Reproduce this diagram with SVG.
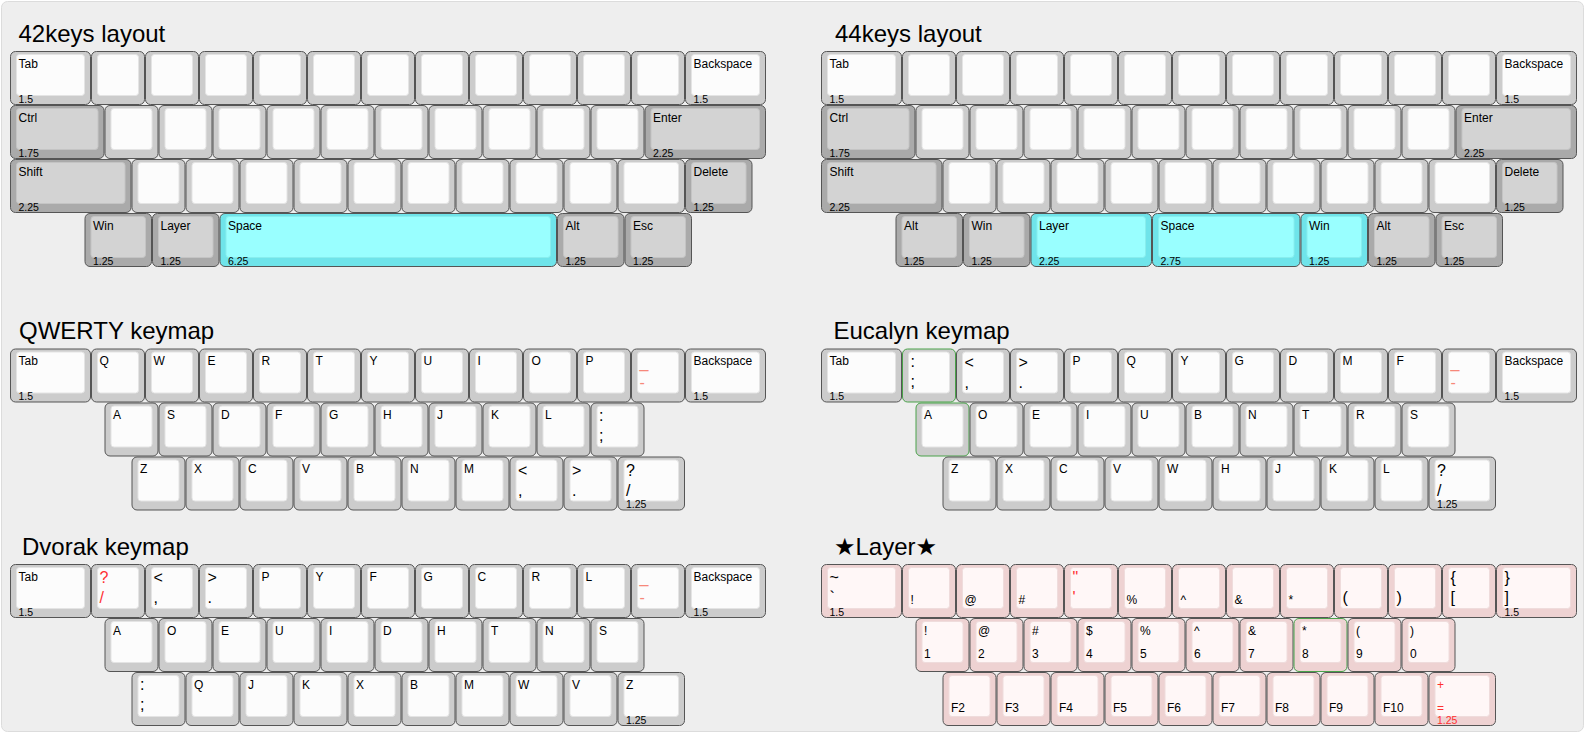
<svg xmlns="http://www.w3.org/2000/svg" width="1586" height="735" viewBox="0 0 1586 735">
<style>
text{font-family:"Liberation Sans",Arial,Helvetica,"DejaVu Sans",sans-serif;fill:#000}
.ttl{font-size:24px}
.s{font-size:12px}
.b{font-size:16px}
.f{font-size:10.5px}
.sal{fill:#f7887a}
.red{fill:#ff3030}
.wo{fill:#cccccc;stroke:#555}
.wi{fill:#fcfcfc;stroke:#e4e4e4}
.go{fill:#aaaaaa;stroke:#555}
.gi{fill:#d3d3d3;stroke:#c4c4c4}
.co{fill:#6fe4ea;stroke:#555}
.ci{fill:#99ffff;stroke:#88eeee}
.po{fill:#eed2d2;stroke:#555}
.pi{fill:#fff7f7;stroke:#efdcdc}
.gr{stroke:#4aa24a}
</style>
<defs>
<g id="w1"><rect class="wo" x="0.5" y="0.5" width="53" height="53" rx="5"/><rect class="wi" x="6.5" y="3.5" width="41" height="41" rx="3"/></g>
<g id="wg1"><rect class="wo gr" x="0.5" y="0.5" width="53" height="53" rx="5"/><rect class="wi" x="6.5" y="3.5" width="41" height="41" rx="3"/></g>
<g id="w125"><rect class="wo" x="0.5" y="0.5" width="66.5" height="53" rx="5"/><rect class="wi" x="6.5" y="3.5" width="54.5" height="41" rx="3"/></g>
<g id="w15"><rect class="wo" x="0.5" y="0.5" width="80" height="53" rx="5"/><rect class="wi" x="6.5" y="3.5" width="68" height="41" rx="3"/></g>
<g id="g125"><rect class="go" x="0.5" y="0.5" width="66.5" height="53" rx="5"/><rect class="gi" x="6.5" y="3.5" width="54.5" height="41" rx="3"/></g>
<g id="g175"><rect class="go" x="0.5" y="0.5" width="93.5" height="53" rx="5"/><rect class="gi" x="6.5" y="3.5" width="81.5" height="41" rx="3"/></g>
<g id="g225"><rect class="go" x="0.5" y="0.5" width="120.5" height="53" rx="5"/><rect class="gi" x="6.5" y="3.5" width="108.5" height="41" rx="3"/></g>
<g id="c125"><rect class="co" x="0.5" y="0.5" width="66.5" height="53" rx="5"/><rect class="ci" x="6.5" y="3.5" width="54.5" height="41" rx="3"/></g>
<g id="c225"><rect class="co" x="0.5" y="0.5" width="120.5" height="53" rx="5"/><rect class="ci" x="6.5" y="3.5" width="108.5" height="41" rx="3"/></g>
<g id="c275"><rect class="co" x="0.5" y="0.5" width="147.5" height="53" rx="5"/><rect class="ci" x="6.5" y="3.5" width="135.5" height="41" rx="3"/></g>
<g id="c625"><rect class="co" x="0.5" y="0.5" width="336.5" height="53" rx="5"/><rect class="ci" x="6.5" y="3.5" width="324.5" height="41" rx="3"/></g>
<g id="p1"><rect class="po" x="0.5" y="0.5" width="53" height="53" rx="5"/><rect class="pi" x="6.5" y="3.5" width="41" height="41" rx="3"/></g>
<g id="pg1"><rect class="po gr" x="0.5" y="0.5" width="53" height="53" rx="5"/><rect class="pi" x="6.5" y="3.5" width="41" height="41" rx="3"/></g>
<g id="p125"><rect class="po" x="0.5" y="0.5" width="66.5" height="53" rx="5"/><rect class="pi" x="6.5" y="3.5" width="54.5" height="41" rx="3"/></g>
<g id="p15"><rect class="po" x="0.5" y="0.5" width="80" height="53" rx="5"/><rect class="pi" x="6.5" y="3.5" width="68" height="41" rx="3"/></g>
</defs>
<rect x="1.5" y="1.5" width="1582" height="730" rx="6" fill="#eeeeee" stroke="#dcdcdc"/>

<!-- 42keys layout -->
<g id="layout42">
<text class="ttl" x="18.5" y="41.5">42keys layout</text>
<g id="l42-tab" transform="translate(10,51)"><use href="#w15"/><text class="s" x="8.5" y="16.5">Tab</text><text class="f" x="8.5" y="51.5">1.5</text></g>
<g id="l42-r0k1" transform="translate(91,51)"><use href="#w1"/></g>
<g id="l42-r0k2" transform="translate(145,51)"><use href="#w1"/></g>
<g id="l42-r0k3" transform="translate(199,51)"><use href="#w1"/></g>
<g id="l42-r0k4" transform="translate(253,51)"><use href="#w1"/></g>
<g id="l42-r0k5" transform="translate(307,51)"><use href="#w1"/></g>
<g id="l42-r0k6" transform="translate(361,51)"><use href="#w1"/></g>
<g id="l42-r0k7" transform="translate(415,51)"><use href="#w1"/></g>
<g id="l42-r0k8" transform="translate(469,51)"><use href="#w1"/></g>
<g id="l42-r0k9" transform="translate(523,51)"><use href="#w1"/></g>
<g id="l42-r0k10" transform="translate(577,51)"><use href="#w1"/></g>
<g id="l42-r0k11" transform="translate(631,51)"><use href="#w1"/></g>
<g id="l42-bksp" transform="translate(685,51)"><use href="#w15"/><text class="s" x="8.5" y="16.5">Backspace</text><text class="f" x="8.5" y="51.5">1.5</text></g>
<g id="l42-ctrl" transform="translate(10,105)"><use href="#g175"/><text class="s" x="8.5" y="16.5">Ctrl</text><text class="f" x="8.5" y="51.5">1.75</text></g>
<g id="l42-r1k1" transform="translate(104.5,105)"><use href="#w1"/></g>
<g id="l42-r1k2" transform="translate(158.5,105)"><use href="#w1"/></g>
<g id="l42-r1k3" transform="translate(212.5,105)"><use href="#w1"/></g>
<g id="l42-r1k4" transform="translate(266.5,105)"><use href="#w1"/></g>
<g id="l42-r1k5" transform="translate(320.5,105)"><use href="#w1"/></g>
<g id="l42-r1k6" transform="translate(374.5,105)"><use href="#w1"/></g>
<g id="l42-r1k7" transform="translate(428.5,105)"><use href="#w1"/></g>
<g id="l42-r1k8" transform="translate(482.5,105)"><use href="#w1"/></g>
<g id="l42-r1k9" transform="translate(536.5,105)"><use href="#w1"/></g>
<g id="l42-r1k10" transform="translate(590.5,105)"><use href="#w1"/></g>
<g id="l42-enter" transform="translate(644.5,105)"><use href="#g225"/><text class="s" x="8.5" y="16.5">Enter</text><text class="f" x="8.5" y="51.5">2.25</text></g>
<g id="l42-shift" transform="translate(10,159)"><use href="#g225"/><text class="s" x="8.5" y="16.5">Shift</text><text class="f" x="8.5" y="51.5">2.25</text></g>
<g id="l42-r2k1" transform="translate(131.5,159)"><use href="#w1"/></g>
<g id="l42-r2k2" transform="translate(185.5,159)"><use href="#w1"/></g>
<g id="l42-r2k3" transform="translate(239.5,159)"><use href="#w1"/></g>
<g id="l42-r2k4" transform="translate(293.5,159)"><use href="#w1"/></g>
<g id="l42-r2k5" transform="translate(347.5,159)"><use href="#w1"/></g>
<g id="l42-r2k6" transform="translate(401.5,159)"><use href="#w1"/></g>
<g id="l42-r2k7" transform="translate(455.5,159)"><use href="#w1"/></g>
<g id="l42-r2k8" transform="translate(509.5,159)"><use href="#w1"/></g>
<g id="l42-r2k9" transform="translate(563.5,159)"><use href="#w1"/></g>
<g id="l42-r2k10" transform="translate(617.5,159)"><use href="#w125"/></g>
<g id="l42-delete" transform="translate(685,159)"><use href="#g125"/><text class="s" x="8.5" y="16.5">Delete</text><text class="f" x="8.5" y="51.5">1.25</text></g>
<g id="l42-win" transform="translate(84.5,213)"><use href="#g125"/><text class="s" x="8.5" y="16.5">Win</text><text class="f" x="8.5" y="51.5">1.25</text></g>
<g id="l42-layer" transform="translate(152,213)"><use href="#g125"/><text class="s" x="8.5" y="16.5">Layer</text><text class="f" x="8.5" y="51.5">1.25</text></g>
<g id="l42-space" transform="translate(219.5,213)"><use href="#c625"/><text class="s" x="8.5" y="16.5">Space</text><text class="f" x="8.5" y="51.5">6.25</text></g>
<g id="l42-alt" transform="translate(557,213)"><use href="#g125"/><text class="s" x="8.5" y="16.5">Alt</text><text class="f" x="8.5" y="51.5">1.25</text></g>
<g id="l42-esc" transform="translate(624.5,213)"><use href="#g125"/><text class="s" x="8.5" y="16.5">Esc</text><text class="f" x="8.5" y="51.5">1.25</text></g>
</g>

<!-- 44keys layout -->
<g id="layout44">
<text class="ttl" x="835" y="41.5">44keys layout</text>
<g id="l44-tab" transform="translate(821,51)"><use href="#w15"/><text class="s" x="8.5" y="16.5">Tab</text><text class="f" x="8.5" y="51.5">1.5</text></g>
<g id="l44-r0k1" transform="translate(902,51)"><use href="#w1"/></g>
<g id="l44-r0k2" transform="translate(956,51)"><use href="#w1"/></g>
<g id="l44-r0k3" transform="translate(1010,51)"><use href="#w1"/></g>
<g id="l44-r0k4" transform="translate(1064,51)"><use href="#w1"/></g>
<g id="l44-r0k5" transform="translate(1118,51)"><use href="#w1"/></g>
<g id="l44-r0k6" transform="translate(1172,51)"><use href="#w1"/></g>
<g id="l44-r0k7" transform="translate(1226,51)"><use href="#w1"/></g>
<g id="l44-r0k8" transform="translate(1280,51)"><use href="#w1"/></g>
<g id="l44-r0k9" transform="translate(1334,51)"><use href="#w1"/></g>
<g id="l44-r0k10" transform="translate(1388,51)"><use href="#w1"/></g>
<g id="l44-r0k11" transform="translate(1442,51)"><use href="#w1"/></g>
<g id="l44-bksp" transform="translate(1496,51)"><use href="#w15"/><text class="s" x="8.5" y="16.5">Backspace</text><text class="f" x="8.5" y="51.5">1.5</text></g>
<g id="l44-ctrl" transform="translate(821,105)"><use href="#g175"/><text class="s" x="8.5" y="16.5">Ctrl</text><text class="f" x="8.5" y="51.5">1.75</text></g>
<g id="l44-r1k1" transform="translate(915.5,105)"><use href="#w1"/></g>
<g id="l44-r1k2" transform="translate(969.5,105)"><use href="#w1"/></g>
<g id="l44-r1k3" transform="translate(1023.5,105)"><use href="#w1"/></g>
<g id="l44-r1k4" transform="translate(1077.5,105)"><use href="#w1"/></g>
<g id="l44-r1k5" transform="translate(1131.5,105)"><use href="#w1"/></g>
<g id="l44-r1k6" transform="translate(1185.5,105)"><use href="#w1"/></g>
<g id="l44-r1k7" transform="translate(1239.5,105)"><use href="#w1"/></g>
<g id="l44-r1k8" transform="translate(1293.5,105)"><use href="#w1"/></g>
<g id="l44-r1k9" transform="translate(1347.5,105)"><use href="#w1"/></g>
<g id="l44-r1k10" transform="translate(1401.5,105)"><use href="#w1"/></g>
<g id="l44-enter" transform="translate(1455.5,105)"><use href="#g225"/><text class="s" x="8.5" y="16.5">Enter</text><text class="f" x="8.5" y="51.5">2.25</text></g>
<g id="l44-shift" transform="translate(821,159)"><use href="#g225"/><text class="s" x="8.5" y="16.5">Shift</text><text class="f" x="8.5" y="51.5">2.25</text></g>
<g id="l44-r2k1" transform="translate(942.5,159)"><use href="#w1"/></g>
<g id="l44-r2k2" transform="translate(996.5,159)"><use href="#w1"/></g>
<g id="l44-r2k3" transform="translate(1050.5,159)"><use href="#w1"/></g>
<g id="l44-r2k4" transform="translate(1104.5,159)"><use href="#w1"/></g>
<g id="l44-r2k5" transform="translate(1158.5,159)"><use href="#w1"/></g>
<g id="l44-r2k6" transform="translate(1212.5,159)"><use href="#w1"/></g>
<g id="l44-r2k7" transform="translate(1266.5,159)"><use href="#w1"/></g>
<g id="l44-r2k8" transform="translate(1320.5,159)"><use href="#w1"/></g>
<g id="l44-r2k9" transform="translate(1374.5,159)"><use href="#w1"/></g>
<g id="l44-r2k10" transform="translate(1428.5,159)"><use href="#w125"/></g>
<g id="l44-delete" transform="translate(1496,159)"><use href="#g125"/><text class="s" x="8.5" y="16.5">Delete</text><text class="f" x="8.5" y="51.5">1.25</text></g>
<g id="l44-alt1" transform="translate(895.5,213)"><use href="#g125"/><text class="s" x="8.5" y="16.5">Alt</text><text class="f" x="8.5" y="51.5">1.25</text></g>
<g id="l44-win1" transform="translate(963,213)"><use href="#g125"/><text class="s" x="8.5" y="16.5">Win</text><text class="f" x="8.5" y="51.5">1.25</text></g>
<g id="l44-layer" transform="translate(1030.5,213)"><use href="#c225"/><text class="s" x="8.5" y="16.5">Layer</text><text class="f" x="8.5" y="51.5">2.25</text></g>
<g id="l44-space" transform="translate(1152,213)"><use href="#c275"/><text class="s" x="8.5" y="16.5">Space</text><text class="f" x="8.5" y="51.5">2.75</text></g>
<g id="l44-win2" transform="translate(1300.5,213)"><use href="#c125"/><text class="s" x="8.5" y="16.5">Win</text><text class="f" x="8.5" y="51.5">1.25</text></g>
<g id="l44-alt2" transform="translate(1368,213)"><use href="#g125"/><text class="s" x="8.5" y="16.5">Alt</text><text class="f" x="8.5" y="51.5">1.25</text></g>
<g id="l44-esc" transform="translate(1435.5,213)"><use href="#g125"/><text class="s" x="8.5" y="16.5">Esc</text><text class="f" x="8.5" y="51.5">1.25</text></g>
</g>

<!-- QWERTY keymap -->
<g id="qwerty">
<text class="ttl" x="19" y="339">QWERTY keymap</text>
<g id="qw-tab" transform="translate(10,348.5)"><use href="#w15"/><text class="s" x="8.5" y="16.5">Tab</text><text class="f" x="8.5" y="51.5">1.5</text></g>
<g id="qw-q" transform="translate(91,348.5)"><use href="#w1"/><text class="s" x="8.5" y="16.5">Q</text></g>
<g id="qw-w" transform="translate(145,348.5)"><use href="#w1"/><text class="s" x="8.5" y="16.5">W</text></g>
<g id="qw-e" transform="translate(199,348.5)"><use href="#w1"/><text class="s" x="8.5" y="16.5">E</text></g>
<g id="qw-r" transform="translate(253,348.5)"><use href="#w1"/><text class="s" x="8.5" y="16.5">R</text></g>
<g id="qw-t" transform="translate(307,348.5)"><use href="#w1"/><text class="s" x="8.5" y="16.5">T</text></g>
<g id="qw-y" transform="translate(361,348.5)"><use href="#w1"/><text class="s" x="8.5" y="16.5">Y</text></g>
<g id="qw-u" transform="translate(415,348.5)"><use href="#w1"/><text class="s" x="8.5" y="16.5">U</text></g>
<g id="qw-i" transform="translate(469,348.5)"><use href="#w1"/><text class="s" x="8.5" y="16.5">I</text></g>
<g id="qw-o" transform="translate(523,348.5)"><use href="#w1"/><text class="s" x="8.5" y="16.5">O</text></g>
<g id="qw-p" transform="translate(577,348.5)"><use href="#w1"/><text class="s" x="8.5" y="16.5">P</text></g>
<g id="qw-minus" transform="translate(631,348.5)"><use href="#w1"/><text class="b sal" x="8.5" y="19">_</text><text class="b sal" x="8.5" y="39">-</text></g>
<g id="qw-bksp" transform="translate(685,348.5)"><use href="#w15"/><text class="s" x="8.5" y="16.5">Backspace</text><text class="f" x="8.5" y="51.5">1.5</text></g>
<g id="qw-a" transform="translate(104.5,402.5)"><use href="#w1"/><text class="s" x="8.5" y="16.5">A</text></g>
<g id="qw-s" transform="translate(158.5,402.5)"><use href="#w1"/><text class="s" x="8.5" y="16.5">S</text></g>
<g id="qw-d" transform="translate(212.5,402.5)"><use href="#w1"/><text class="s" x="8.5" y="16.5">D</text></g>
<g id="qw-f" transform="translate(266.5,402.5)"><use href="#w1"/><text class="s" x="8.5" y="16.5">F</text></g>
<g id="qw-g" transform="translate(320.5,402.5)"><use href="#w1"/><text class="s" x="8.5" y="16.5">G</text></g>
<g id="qw-h" transform="translate(374.5,402.5)"><use href="#w1"/><text class="s" x="8.5" y="16.5">H</text></g>
<g id="qw-j" transform="translate(428.5,402.5)"><use href="#w1"/><text class="s" x="8.5" y="16.5">J</text></g>
<g id="qw-k" transform="translate(482.5,402.5)"><use href="#w1"/><text class="s" x="8.5" y="16.5">K</text></g>
<g id="qw-l" transform="translate(536.5,402.5)"><use href="#w1"/><text class="s" x="8.5" y="16.5">L</text></g>
<g id="qw-semi" transform="translate(590.5,402.5)"><use href="#w1"/><text class="b" x="8.5" y="18">:</text><text class="b" x="8.5" y="38">;</text></g>
<g id="qw-z" transform="translate(131.5,456.5)"><use href="#w1"/><text class="s" x="8.5" y="16.5">Z</text></g>
<g id="qw-x" transform="translate(185.5,456.5)"><use href="#w1"/><text class="s" x="8.5" y="16.5">X</text></g>
<g id="qw-c" transform="translate(239.5,456.5)"><use href="#w1"/><text class="s" x="8.5" y="16.5">C</text></g>
<g id="qw-v" transform="translate(293.5,456.5)"><use href="#w1"/><text class="s" x="8.5" y="16.5">V</text></g>
<g id="qw-b" transform="translate(347.5,456.5)"><use href="#w1"/><text class="s" x="8.5" y="16.5">B</text></g>
<g id="qw-n" transform="translate(401.5,456.5)"><use href="#w1"/><text class="s" x="8.5" y="16.5">N</text></g>
<g id="qw-m" transform="translate(455.5,456.5)"><use href="#w1"/><text class="s" x="8.5" y="16.5">M</text></g>
<g id="qw-comma" transform="translate(509.5,456.5)"><use href="#w1"/><text class="b" x="8.5" y="19">&lt;</text><text class="b" x="8.5" y="39">,</text></g>
<g id="qw-period" transform="translate(563.5,456.5)"><use href="#w1"/><text class="b" x="8.5" y="19">&gt;</text><text class="b" x="8.5" y="39">.</text></g>
<g id="qw-slash" transform="translate(617.5,456.5)"><use href="#w125"/><text class="b" x="8.5" y="19">?</text><text class="b" x="8.5" y="39">/</text><text class="f" x="8.5" y="51.5">1.25</text></g>
</g>

<!-- Eucalyn keymap -->
<g id="eucalyn">
<text class="ttl" x="833.5" y="339">Eucalyn keymap</text>
<g id="eu-tab" transform="translate(821,348.5)"><use href="#w15"/><text class="s" x="8.5" y="16.5">Tab</text><text class="f" x="8.5" y="51.5">1.5</text></g>
<g id="eu-semi" transform="translate(902,348.5)"><use href="#wg1"/><text class="b" x="8.5" y="18">:</text><text class="b" x="8.5" y="38">;</text></g>
<g id="eu-comma" transform="translate(956,348.5)"><use href="#w1"/><text class="b" x="8.5" y="19">&lt;</text><text class="b" x="8.5" y="39">,</text></g>
<g id="eu-period" transform="translate(1010,348.5)"><use href="#w1"/><text class="b" x="8.5" y="19">&gt;</text><text class="b" x="8.5" y="39">.</text></g>
<g id="eu-p" transform="translate(1064,348.5)"><use href="#w1"/><text class="s" x="8.5" y="16.5">P</text></g>
<g id="eu-q" transform="translate(1118,348.5)"><use href="#w1"/><text class="s" x="8.5" y="16.5">Q</text></g>
<g id="eu-y" transform="translate(1172,348.5)"><use href="#w1"/><text class="s" x="8.5" y="16.5">Y</text></g>
<g id="eu-g" transform="translate(1226,348.5)"><use href="#w1"/><text class="s" x="8.5" y="16.5">G</text></g>
<g id="eu-d" transform="translate(1280,348.5)"><use href="#w1"/><text class="s" x="8.5" y="16.5">D</text></g>
<g id="eu-m" transform="translate(1334,348.5)"><use href="#w1"/><text class="s" x="8.5" y="16.5">M</text></g>
<g id="eu-f" transform="translate(1388,348.5)"><use href="#w1"/><text class="s" x="8.5" y="16.5">F</text></g>
<g id="eu-minus" transform="translate(1442,348.5)"><use href="#w1"/><text class="b sal" x="8.5" y="19">_</text><text class="b sal" x="8.5" y="39">-</text></g>
<g id="eu-bksp" transform="translate(1496,348.5)"><use href="#w15"/><text class="s" x="8.5" y="16.5">Backspace</text><text class="f" x="8.5" y="51.5">1.5</text></g>
<g id="eu-a" transform="translate(915.5,402.5)"><use href="#wg1"/><text class="s" x="8.5" y="16.5">A</text></g>
<g id="eu-o" transform="translate(969.5,402.5)"><use href="#w1"/><text class="s" x="8.5" y="16.5">O</text></g>
<g id="eu-e" transform="translate(1023.5,402.5)"><use href="#w1"/><text class="s" x="8.5" y="16.5">E</text></g>
<g id="eu-i" transform="translate(1077.5,402.5)"><use href="#w1"/><text class="s" x="8.5" y="16.5">I</text></g>
<g id="eu-u" transform="translate(1131.5,402.5)"><use href="#w1"/><text class="s" x="8.5" y="16.5">U</text></g>
<g id="eu-b" transform="translate(1185.5,402.5)"><use href="#w1"/><text class="s" x="8.5" y="16.5">B</text></g>
<g id="eu-n" transform="translate(1239.5,402.5)"><use href="#w1"/><text class="s" x="8.5" y="16.5">N</text></g>
<g id="eu-t" transform="translate(1293.5,402.5)"><use href="#w1"/><text class="s" x="8.5" y="16.5">T</text></g>
<g id="eu-r" transform="translate(1347.5,402.5)"><use href="#w1"/><text class="s" x="8.5" y="16.5">R</text></g>
<g id="eu-s" transform="translate(1401.5,402.5)"><use href="#w1"/><text class="s" x="8.5" y="16.5">S</text></g>
<g id="eu-z" transform="translate(942.5,456.5)"><use href="#w1"/><text class="s" x="8.5" y="16.5">Z</text></g>
<g id="eu-x" transform="translate(996.5,456.5)"><use href="#w1"/><text class="s" x="8.5" y="16.5">X</text></g>
<g id="eu-c" transform="translate(1050.5,456.5)"><use href="#w1"/><text class="s" x="8.5" y="16.5">C</text></g>
<g id="eu-v" transform="translate(1104.5,456.5)"><use href="#w1"/><text class="s" x="8.5" y="16.5">V</text></g>
<g id="eu-w" transform="translate(1158.5,456.5)"><use href="#w1"/><text class="s" x="8.5" y="16.5">W</text></g>
<g id="eu-h" transform="translate(1212.5,456.5)"><use href="#w1"/><text class="s" x="8.5" y="16.5">H</text></g>
<g id="eu-j" transform="translate(1266.5,456.5)"><use href="#w1"/><text class="s" x="8.5" y="16.5">J</text></g>
<g id="eu-k" transform="translate(1320.5,456.5)"><use href="#w1"/><text class="s" x="8.5" y="16.5">K</text></g>
<g id="eu-l" transform="translate(1374.5,456.5)"><use href="#w1"/><text class="s" x="8.5" y="16.5">L</text></g>
<g id="eu-slash" transform="translate(1428.5,456.5)"><use href="#w125"/><text class="b" x="8.5" y="19">?</text><text class="b" x="8.5" y="39">/</text><text class="f" x="8.5" y="51.5">1.25</text></g>
</g>

<!-- Dvorak keymap -->
<g id="dvorak">
<text class="ttl" x="22" y="554.5">Dvorak keymap</text>
<g id="dv-tab" transform="translate(10,564)"><use href="#w15"/><text class="s" x="8.5" y="16.5">Tab</text><text class="f" x="8.5" y="51.5">1.5</text></g>
<g id="dv-slash" transform="translate(91,564)"><use href="#w1"/><text class="b red" x="8.5" y="19">?</text><text class="b red" x="8.5" y="39">/</text></g>
<g id="dv-comma" transform="translate(145,564)"><use href="#w1"/><text class="b" x="8.5" y="19">&lt;</text><text class="b" x="8.5" y="39">,</text></g>
<g id="dv-period" transform="translate(199,564)"><use href="#w1"/><text class="b" x="8.5" y="19">&gt;</text><text class="b" x="8.5" y="39">.</text></g>
<g id="dv-p" transform="translate(253,564)"><use href="#w1"/><text class="s" x="8.5" y="16.5">P</text></g>
<g id="dv-y" transform="translate(307,564)"><use href="#w1"/><text class="s" x="8.5" y="16.5">Y</text></g>
<g id="dv-f" transform="translate(361,564)"><use href="#w1"/><text class="s" x="8.5" y="16.5">F</text></g>
<g id="dv-g" transform="translate(415,564)"><use href="#w1"/><text class="s" x="8.5" y="16.5">G</text></g>
<g id="dv-c" transform="translate(469,564)"><use href="#w1"/><text class="s" x="8.5" y="16.5">C</text></g>
<g id="dv-r" transform="translate(523,564)"><use href="#w1"/><text class="s" x="8.5" y="16.5">R</text></g>
<g id="dv-l" transform="translate(577,564)"><use href="#w1"/><text class="s" x="8.5" y="16.5">L</text></g>
<g id="dv-minus" transform="translate(631,564)"><use href="#w1"/><text class="b sal" x="8.5" y="19">_</text><text class="b sal" x="8.5" y="39">-</text></g>
<g id="dv-bksp" transform="translate(685,564)"><use href="#w15"/><text class="s" x="8.5" y="16.5">Backspace</text><text class="f" x="8.5" y="51.5">1.5</text></g>
<g id="dv-a" transform="translate(104.5,618)"><use href="#w1"/><text class="s" x="8.5" y="16.5">A</text></g>
<g id="dv-o" transform="translate(158.5,618)"><use href="#w1"/><text class="s" x="8.5" y="16.5">O</text></g>
<g id="dv-e" transform="translate(212.5,618)"><use href="#w1"/><text class="s" x="8.5" y="16.5">E</text></g>
<g id="dv-u" transform="translate(266.5,618)"><use href="#w1"/><text class="s" x="8.5" y="16.5">U</text></g>
<g id="dv-i" transform="translate(320.5,618)"><use href="#w1"/><text class="s" x="8.5" y="16.5">I</text></g>
<g id="dv-d" transform="translate(374.5,618)"><use href="#w1"/><text class="s" x="8.5" y="16.5">D</text></g>
<g id="dv-h" transform="translate(428.5,618)"><use href="#w1"/><text class="s" x="8.5" y="16.5">H</text></g>
<g id="dv-t" transform="translate(482.5,618)"><use href="#w1"/><text class="s" x="8.5" y="16.5">T</text></g>
<g id="dv-n" transform="translate(536.5,618)"><use href="#w1"/><text class="s" x="8.5" y="16.5">N</text></g>
<g id="dv-s" transform="translate(590.5,618)"><use href="#w1"/><text class="s" x="8.5" y="16.5">S</text></g>
<g id="dv-semi" transform="translate(131.5,672)"><use href="#w1"/><text class="b" x="8.5" y="18">:</text><text class="b" x="8.5" y="38">;</text></g>
<g id="dv-q" transform="translate(185.5,672)"><use href="#w1"/><text class="s" x="8.5" y="16.5">Q</text></g>
<g id="dv-j" transform="translate(239.5,672)"><use href="#w1"/><text class="s" x="8.5" y="16.5">J</text></g>
<g id="dv-k" transform="translate(293.5,672)"><use href="#w1"/><text class="s" x="8.5" y="16.5">K</text></g>
<g id="dv-x" transform="translate(347.5,672)"><use href="#w1"/><text class="s" x="8.5" y="16.5">X</text></g>
<g id="dv-b" transform="translate(401.5,672)"><use href="#w1"/><text class="s" x="8.5" y="16.5">B</text></g>
<g id="dv-m" transform="translate(455.5,672)"><use href="#w1"/><text class="s" x="8.5" y="16.5">M</text></g>
<g id="dv-w" transform="translate(509.5,672)"><use href="#w1"/><text class="s" x="8.5" y="16.5">W</text></g>
<g id="dv-v" transform="translate(563.5,672)"><use href="#w1"/><text class="s" x="8.5" y="16.5">V</text></g>
<g id="dv-z" transform="translate(617.5,672)"><use href="#w125"/><text class="s" x="8.5" y="16.5">Z</text><text class="f" x="8.5" y="51.5">1.25</text></g>
</g>

<!-- Layer -->
<g id="layer">
<text class="ttl" x="834" y="554.5">★Layer★</text>
<g id="ly-grave" transform="translate(821,564)"><use href="#p15"/><text class="b" x="8.5" y="19">~</text><text class="b" x="8.5" y="39">`</text><text class="f" x="8.5" y="51.5">1.5</text></g>
<g id="ly-excl" transform="translate(902,564)"><use href="#p1"/><text class="s" x="8.5" y="40">!</text></g>
<g id="ly-at" transform="translate(956,564)"><use href="#p1"/><text class="s" x="8.5" y="40">@</text></g>
<g id="ly-hash" transform="translate(1010,564)"><use href="#p1"/><text class="s" x="8.5" y="40">#</text></g>
<g id="ly-quote" transform="translate(1064,564)"><use href="#p1"/><text class="b red" x="8.5" y="19">"</text><text class="b red" x="8.5" y="39">'</text></g>
<g id="ly-pct" transform="translate(1118,564)"><use href="#p1"/><text class="s" x="8.5" y="40">%</text></g>
<g id="ly-caret" transform="translate(1172,564)"><use href="#p1"/><text class="s" x="8.5" y="40">^</text></g>
<g id="ly-amp" transform="translate(1226,564)"><use href="#p1"/><text class="s" x="8.5" y="40">&amp;</text></g>
<g id="ly-ast" transform="translate(1280,564)"><use href="#p1"/><text class="s" x="8.5" y="40">*</text></g>
<g id="ly-lparen" transform="translate(1334,564)"><use href="#p1"/><text class="b" x="8.5" y="39">(</text></g>
<g id="ly-rparen" transform="translate(1388,564)"><use href="#p1"/><text class="b" x="8.5" y="39">)</text></g>
<g id="ly-lbrace" transform="translate(1442,564)"><use href="#p1"/><text class="b" x="8.5" y="19">{</text><text class="b" x="8.5" y="39">[</text></g>
<g id="ly-rbrace" transform="translate(1496,564)"><use href="#p15"/><text class="b" x="8.5" y="19">}</text><text class="b" x="8.5" y="39">]</text><text class="f" x="8.5" y="51.5">1.5</text></g>
<g id="ly-1" transform="translate(915.5,618)"><use href="#p1"/><text class="s" x="8.5" y="16.5">!</text><text class="s" x="8.5" y="40">1</text></g>
<g id="ly-2" transform="translate(969.5,618)"><use href="#p1"/><text class="s" x="8.5" y="16.5">@</text><text class="s" x="8.5" y="40">2</text></g>
<g id="ly-3" transform="translate(1023.5,618)"><use href="#p1"/><text class="s" x="8.5" y="16.5">#</text><text class="s" x="8.5" y="40">3</text></g>
<g id="ly-4" transform="translate(1077.5,618)"><use href="#p1"/><text class="s" x="8.5" y="16.5">$</text><text class="s" x="8.5" y="40">4</text></g>
<g id="ly-5" transform="translate(1131.5,618)"><use href="#p1"/><text class="s" x="8.5" y="16.5">%</text><text class="s" x="8.5" y="40">5</text></g>
<g id="ly-6" transform="translate(1185.5,618)"><use href="#p1"/><text class="s" x="8.5" y="16.5">^</text><text class="s" x="8.5" y="40">6</text></g>
<g id="ly-7" transform="translate(1239.5,618)"><use href="#p1"/><text class="s" x="8.5" y="16.5">&amp;</text><text class="s" x="8.5" y="40">7</text></g>
<g id="ly-8" transform="translate(1293.5,618)"><use href="#pg1"/><text class="s" x="8.5" y="16.5">*</text><text class="s" x="8.5" y="40">8</text></g>
<g id="ly-9" transform="translate(1347.5,618)"><use href="#p1"/><text class="s" x="8.5" y="16.5">(</text><text class="s" x="8.5" y="40">9</text></g>
<g id="ly-0" transform="translate(1401.5,618)"><use href="#p1"/><text class="s" x="8.5" y="16.5">)</text><text class="s" x="8.5" y="40">0</text></g>
<g id="ly-f2" transform="translate(942.5,672)"><use href="#p1"/><text class="s" x="8.5" y="40">F2</text></g>
<g id="ly-f3" transform="translate(996.5,672)"><use href="#p1"/><text class="s" x="8.5" y="40">F3</text></g>
<g id="ly-f4" transform="translate(1050.5,672)"><use href="#p1"/><text class="s" x="8.5" y="40">F4</text></g>
<g id="ly-f5" transform="translate(1104.5,672)"><use href="#p1"/><text class="s" x="8.5" y="40">F5</text></g>
<g id="ly-f6" transform="translate(1158.5,672)"><use href="#p1"/><text class="s" x="8.5" y="40">F6</text></g>
<g id="ly-f7" transform="translate(1212.5,672)"><use href="#p1"/><text class="s" x="8.5" y="40">F7</text></g>
<g id="ly-f8" transform="translate(1266.5,672)"><use href="#p1"/><text class="s" x="8.5" y="40">F8</text></g>
<g id="ly-f9" transform="translate(1320.5,672)"><use href="#p1"/><text class="s" x="8.5" y="40">F9</text></g>
<g id="ly-f10" transform="translate(1374.5,672)"><use href="#p1"/><text class="s" x="8.5" y="40">F10</text></g>
<g id="ly-plus" transform="translate(1428.5,672)"><use href="#p125"/><text class="s red" x="8.5" y="16.5">+</text><text class="s red" x="8.5" y="40">=</text><text class="f red" x="8.5" y="51.5">1.25</text></g>
</g>
<g id="connectors"/>
</svg>
